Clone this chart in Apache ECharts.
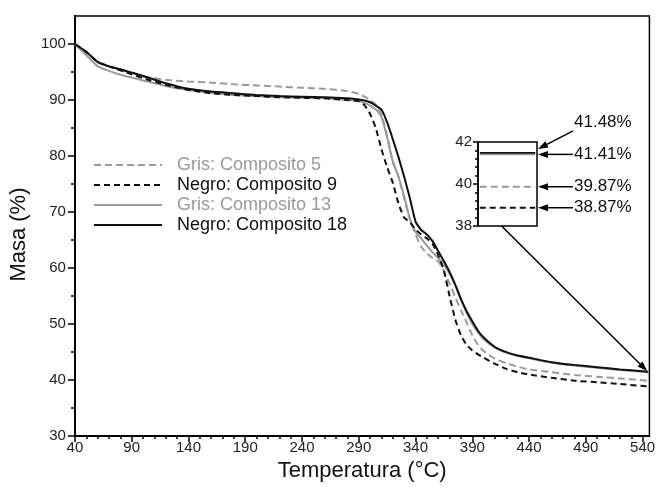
<!DOCTYPE html>
<html><head><meta charset="utf-8">
<script src="https://cdn.jsdelivr.net/npm/echarts@6/dist/echarts.min.js"></script>
<style>html,body{margin:0;padding:0;background:#fff}#c{width:658px;height:487px}</style>
</head><body><div id="c"></div>
<script>
// ---- data ----
const temps   = [40,50,60,70,80,90,100,120,140,160,180,200,220,240,260,280,290,295,300,305,310,315,320,325,330,335,340,345,350,355,360,365,370,375,380,385,390,395,400,410,420,430,440,460,480,500,520,545];
const gris5   = [100,98.6,96.8,96.0,95.4,94.8,94.2,93.6,93.3,93.1,92.8,92.6,92.4,92.2,92.0,91.6,91.1,90.6,90.0,89.2,87.5,83.5,79.0,76.3,72.5,68.8,66.0,63.8,62.6,61.8,61.2,59.5,57.2,54.8,52.5,50.3,48.0,46.3,45.2,43.8,43.0,42.4,41.9,41.4,40.9,40.6,40.3,39.87];
const negro9  = [100,98.6,96.8,96.0,95.3,94.6,93.9,92.7,91.8,91.2,90.9,90.7,90.5,90.4,90.3,90.0,89.8,89.1,87.5,85.0,81.2,78.0,75.2,71.5,69.0,68.2,66.9,66.0,65.3,64.3,62.3,59.5,55.0,50.8,48.0,46.3,45.3,44.6,44.0,42.9,42.0,41.4,41.0,40.4,39.9,39.6,39.3,38.87];
const gris13  = [100,98.0,96.0,95.2,94.5,94.0,93.5,92.5,91.8,91.3,90.9,90.7,90.5,90.4,90.3,90.0,89.8,89.5,89.0,88.3,87.0,83.3,79.0,76.3,72.8,68.8,66.5,65.3,64.0,62.8,61.8,60.6,59.0,57.0,54.3,52.0,50.0,48.5,47.3,45.8,44.9,44.3,43.9,43.1,42.6,42.2,41.8,41.41];
const negro18 = [100,98.6,96.8,96.0,95.5,94.9,94.3,93.0,92.0,91.5,91.2,90.9,90.7,90.6,90.5,90.3,90.1,89.9,89.6,89.0,88.3,86.0,83.0,79.8,76.3,72.5,68.3,66.8,66.0,64.8,63.0,61.2,59.3,57.0,54.5,52.3,50.5,48.8,47.6,45.9,45.0,44.4,44.0,43.2,42.7,42.3,41.9,41.48];
const seriesNames = ['Gris: Composito 5','Negro: Composito 9','Gris: Composito 13','Negro: Composito 18'];
const finalValues = [39.87, 38.87, 41.41, 41.48];
const finalLabels = ['39.87%','38.87%','41.41%','41.48%'];
const xTicks = [40,90,140,190,240,290,340,390,440,490,540];
const yTicks = [30,40,50,60,70,80,90,100];
const insetTicks = [38,40,42];

// ---- helpers ----
const FONT = '"Liberation Sans", Arial, sans-serif';
const GRAY = '#9a9a9a', BLACK = '#111';
const xMinor = []; for (let v = 50; v <= 546; v += 10) if ((v - 40) % 50) xMinor.push(v);
const yMinor = []; for (let v = 35; v < 105; v += 10) yMinor.push(v);
const iMinor = []; for (let k = 1; k < 10; k++) if (k !== 5) iMinor.push(+(38 + k * 0.4).toFixed(1));
const pairs = arr => temps.map((t, i) => [t, arr[i]]);

const styles = [
  {color: GRAY,  type: [7, 4], width: 2},
  {color: BLACK, type: [6, 4], width: 2},
  {color: GRAY,  type: 'solid', width: 2},
  {color: BLACK, type: 'solid', width: 2}
];
const values = [gris5, negro9, gris13, negro18];
const drawOrder = [2, 0, 3, 1];

const axisCommon = {
  axisLine: {lineStyle: {color: '#000', width: 2}},
  axisTick: {lineStyle: {color: '#000', width: 1.5}},
  axisLabel: {color: '#222', fontSize: 15, fontFamily: FONT},
  splitLine: {show: false}
};

const chart = echarts.init(document.getElementById('c'), null, {renderer: 'canvas'});
const option = {
  animation: false,
  backgroundColor: '#fff',
  grid: [
    {left: 65, right: 3, top: 16, bottom: 50, show: true, borderColor: '#000', borderWidth: 1.5},
    {left: 478, top: 142, width: 59, height: 84, show: true, borderColor: '#000', borderWidth: 1.5}
  ],
  xAxis: [
    Object.assign({}, axisCommon, {type: 'value', gridIndex: 0, position: 'bottom', min: 40, max: 546,
      name: 'Temperatura (°C)', nameLocation: 'middle', nameGap: 22,
      nameTextStyle: {fontSize: 22, color: BLACK, fontFamily: FONT},
      axisLabel: Object.assign({}, axisCommon.axisLabel, {customValues: xTicks, margin: 4}),
      axisTick: {customValues: xTicks, length: 6, lineStyle: {color: '#000', width: 1.5}}}),
    {type: 'value', gridIndex: 0, position: 'bottom', min: 40, max: 546,
      axisLine: {show: false}, axisLabel: {show: false}, splitLine: {show: false},
      axisTick: {customValues: xMinor, length: 3, lineStyle: {color: '#000', width: 1.5}}},
    {type: 'value', gridIndex: 1, min: 0, max: 1, show: false}
  ],
  yAxis: [
    Object.assign({}, axisCommon, {type: 'value', gridIndex: 0, position: 'left', min: 30, max: 105,
      name: 'Masa (%)', nameLocation: 'middle', nameGap: 34,
      nameTextStyle: {fontSize: 22, color: BLACK, fontFamily: FONT, padding: [0, 17, 0, 0]},
      axisLabel: Object.assign({}, axisCommon.axisLabel, {customValues: yTicks, margin: 9}),
      axisTick: {customValues: yTicks, length: 7, lineStyle: {color: '#000', width: 1.5}}}),
    {type: 'value', gridIndex: 0, position: 'left', min: 30, max: 105,
      axisLine: {show: false}, axisLabel: {show: false}, splitLine: {show: false},
      axisTick: {customValues: yMinor, length: 4, lineStyle: {color: '#000', width: 1.5}}},
    {type: 'value', gridIndex: 1, position: 'left', min: 38, max: 42,
      axisLine: {lineStyle: {color: '#000', width: 1.5}}, splitLine: {show: false},
      axisLabel: {customValues: insetTicks, color: '#222', fontSize: 15, fontFamily: FONT, margin: 6},
      axisTick: {customValues: insetTicks, length: 5, lineStyle: {color: '#000', width: 1.5}}},
    {type: 'value', gridIndex: 1, position: 'left', min: 38, max: 42,
      axisLine: {show: false}, axisLabel: {show: false}, splitLine: {show: false},
      axisTick: {customValues: iMinor, length: 3, lineStyle: {color: '#000', width: 1.5}}}
  ],
  legend: {
    orient: 'vertical', left: 88, top: 151, itemWidth: 68, itemHeight: 14, itemGap: 2,
    itemStyle: {opacity: 0},
    textStyle: {fontSize: 18, fontFamily: FONT, padding: [0, 0, 0, 10]},
    data: seriesNames.map((n, i) => ({name: n, textStyle: {color: i % 2 === 0 ? GRAY : BLACK}}))
  },
  series: drawOrder.map(i => ({
    name: seriesNames[i], type: 'line', xAxisIndex: 0, yAxisIndex: 0,
    data: pairs(values[i]), symbol: 'none', showSymbol: false, smooth: 0.15,
    itemStyle: {color: styles[i].color},
    lineStyle: styles[i]
  })).concat(drawOrder.map(i => ({
    name: 'inset' + i, type: 'line', xAxisIndex: 2, yAxisIndex: 2,
    data: [[0.03, finalValues[i]], [0.97, finalValues[i]]], symbol: 'none',
    lineStyle: Object.assign({}, styles[i], {width: 1.8})
  })))
};
chart.setOption(option);

// ---- annotations (positions derived from axes) ----
function arrow(x1, y1, x2, y2) {
  const a = Math.atan2(y2 - y1, x2 - x1), c = Math.cos(a), s = Math.sin(a);
  const L = 10, W = 3.5, bx = x2 - L * c, by = y2 - L * s;
  return [
    {type: 'line', shape: {x1, y1, x2: bx + c, y2: by + s}, style: {stroke: '#000', lineWidth: 1.5}, z: 100},
    {type: 'polygon', shape: {points: [[x2, y2], [bx - W * s, by + W * c], [bx + W * s, by - W * c]]}, style: {fill: '#000'}, z: 100}
  ];
}
const g = [];
finalValues.forEach((v, i) => {
  const p = chart.convertToPixel({gridIndex: 1}, [1, v]);
  let sx = p[0] + 36, sy = p[1], ey = p[1], ly = p[1];
  if (i === 3) { sy = p[1] - 22; ey = p[1] - 4; ly = p[1] - 31; }
  g.push(...arrow(sx, sy, p[0] + 1, ey));
  g.push({type: 'text', x: sx + 1, y: ly, z: 100,
    style: {text: finalLabels[i], font: '17px ' + FONT, fill: BLACK, verticalAlign: 'middle', align: 'left'}});
});
const bs = chart.convertToPixel({gridIndex: 1}, [0.4, 38]);
const be = chart.convertToPixel({gridIndex: 0}, [544, 41.6]);
g.push(...arrow(bs[0], bs[1], be[0], be[1]));
chart.setOption({graphic: g});
</script></body></html>
